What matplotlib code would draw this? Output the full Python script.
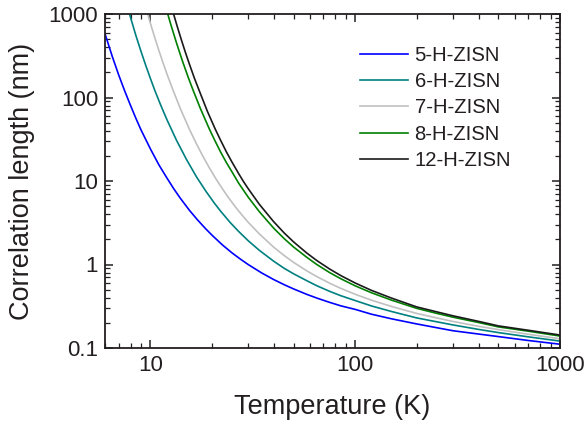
import matplotlib
matplotlib.use("Agg")
import matplotlib.pyplot as plt
from matplotlib.ticker import LogLocator, FixedLocator, FixedFormatter, NullFormatter

plt.rcParams['font.family'] = ['Liberation Sans', 'DejaVu Sans']

# ---- data (T in K, correlation length in nm) ----
T_5 = [6, 6.5, 7, 7.5, 8, 8.5, 9, 10, 11, 12, 13, 14, 15.5, 17, 18.5, 20, 22.5, 25, 27.5, 30,
       35, 40, 45, 50, 58, 65, 75, 85, 100, 120, 150, 200, 250, 300, 400, 500, 700, 1000]
xi_5 = [580, 314, 186, 118.6, 80, 56, 40.8, 24.2, 15.6, 11.0, 8.07, 6.21, 4.46, 3.41, 2.72, 2.24, 1.71, 1.38, 1.16, 1.0,
        0.79, 0.66, 0.573, 0.51, 0.439, 0.396, 0.352, 0.32, 0.29, 0.254, 0.224, 0.194, 0.175, 0.161, 0.147, 0.137, 0.123, 0.111]

T_6 = [7.8, 8.5, 9, 9.5, 10, 10.5, 11.25, 12, 13.4, 15, 16.8, 18.7, 20.5, 22, 24.5, 27, 30,
       34, 40, 45, 50, 58, 65, 75, 85, 100, 120, 150, 200, 250, 300, 400, 500, 700, 1000]
xi_6 = [1115, 548, 355, 240, 168.7, 122, 80, 55.2, 30.8, 18.1, 11.16, 7.48, 5.45, 4.36, 3.19, 2.48, 1.93,
        1.48, 1.094, 0.90, 0.774, 0.64, 0.556, 0.477, 0.423, 0.37, 0.319, 0.274, 0.229, 0.206, 0.189, 0.167, 0.153, 0.136, 0.121]

T_7 = [9.6, 10, 10.5, 11, 11.5, 12.1, 12.85, 14, 15.5, 16.7, 18, 19.5, 21, 22.5, 24, 26, 28, 30,
       34, 40, 45, 50, 58, 65, 75, 85, 100, 120, 150, 200, 250, 300, 400, 500, 700, 1000]
xi_7 = [1086, 771, 521, 365, 264, 185, 125, 73.6, 41.7, 28.5, 20.0, 14.05, 10.4, 8.01, 6.37, 4.89, 3.91, 3.21,
        2.33, 1.61, 1.28, 1.061, 0.84, 0.715, 0.597, 0.518, 0.44, 0.374, 0.315, 0.259, 0.229, 0.208, 0.182, 0.166, 0.146, 0.129]

T_8 = [12, 12.6, 13.36, 14, 14.5, 15.3, 16.1, 17.5, 19.4, 20.6, 22, 23.5, 25, 27, 30,
       34, 40, 45, 50, 58, 65, 75, 85, 100, 120, 150, 200, 250, 300, 400, 500, 700, 1000]
xi_8 = [1109, 736, 463, 325, 252, 174, 125, 74.7, 41.9, 30.8, 22.3, 16.6, 12.9, 9.37, 6.42,
        4.30, 2.72, 2.04, 1.62, 1.22, 0.998, 0.80, 0.676, 0.555, 0.459, 0.375, 0.298, 0.26, 0.234, 0.202, 0.179, 0.159, 0.139]

T_12 = [12.9, 13.5, 14.2, 14.8, 15.5, 16.4, 17.4, 19, 20.7, 22, 23.5, 25, 27, 28.5, 30,
        34, 40, 45, 50, 58, 65, 75, 85, 100, 120, 150, 200, 250, 300, 400, 500, 700, 1000]
xi_12 = [1048, 717, 480, 350, 251, 170, 117, 67.7, 42.1, 30.8, 22.3, 16.9, 12.2, 9.81, 8.12,
         5.27, 3.25, 2.385, 1.865, 1.372, 1.113, 0.883, 0.737, 0.60, 0.49, 0.397, 0.31, 0.271, 0.243, 0.2085, 0.184, 0.163, 0.143]

labels = ['5-H-ZISN', '6-H-ZISN', '7-H-ZISN', '8-H-ZISN', '12-H-ZISN']
colors = ['#0000ff', '#008080', '#c0c0c0', '#008000', '#1a1a1a']

x_ticks = [10, 100, 1000]
x_ticklabels = ['10', '100', '1000']
y_ticks = [0.1, 1, 10, 100, 1000]
y_ticklabels = ['0.1', '1', '10', '100', '1000']

# ---- figure ----
W, H = 587, 424
fig = plt.figure(figsize=(W / 100, H / 100), dpi=100)
ax = fig.add_axes([105 / W, 1 - 348 / H, 455 / W, 334 / H])

series = [(T_5, xi_5), (T_6, xi_6), (T_7, xi_7), (T_8, xi_8), (T_12, xi_12)]
for (t, xi), lab, c in zip(series, labels, colors):
    ax.plot(t, xi, color=c, lw=1.2, label=lab, solid_joinstyle='round')

ax.set_xscale('log')
ax.set_yscale('log')
ax.set_xlim(6, 1000)
ax.set_ylim(0.1, 1000)

ax.xaxis.set_major_locator(FixedLocator(x_ticks))
ax.xaxis.set_major_formatter(FixedFormatter(x_ticklabels))
ax.yaxis.set_major_locator(FixedLocator(y_ticks))
ax.yaxis.set_major_formatter(FixedFormatter(y_ticklabels))
ax.xaxis.set_minor_locator(LogLocator(base=10, subs=range(2, 10), numticks=20))
ax.yaxis.set_minor_locator(LogLocator(base=10, subs=range(2, 10), numticks=20))
ax.xaxis.set_minor_formatter(NullFormatter())
ax.yaxis.set_minor_formatter(NullFormatter())

ax.tick_params(which='both', direction='in', top=True, right=True, color='#231f20')
ax.tick_params(which='major', length=6, width=1.1, labelsize=16, pad=5, labelcolor='#231f20')
ax.tick_params(which='minor', length=3.5, width=0.9)
for s in ax.spines.values():
    s.set_linewidth(1.3)
    s.set_color('#231f20')

ax.set_xlabel('Temperature (K)', fontsize=19.5, labelpad=13, color='#231f20')
ax.set_ylabel('Correlation length (nm)', fontsize=19.5, labelpad=10, color='#231f20')

leg = ax.legend(loc='upper left', bbox_to_anchor=(0.56, 0.905), frameon=False,
                fontsize=14.6, handlelength=2.37, handletextpad=0.33,
                labelspacing=0.36, borderpad=0, borderaxespad=0)
for t in leg.get_texts():
    t.set_color('#231f20')

fig.savefig('out.png', dpi=100)
